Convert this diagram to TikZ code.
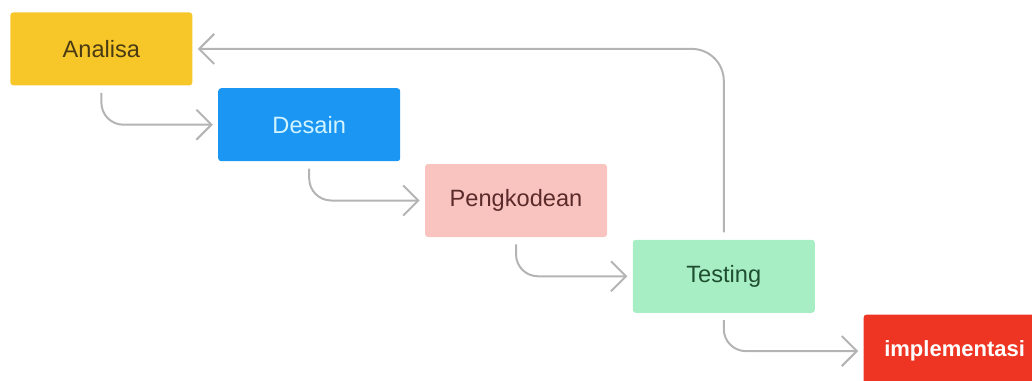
\documentclass[tikz,border=0pt]{standalone}
\usepackage{fontspec}
\setmainfont{Liberation Sans}
\usepackage{xcolor}
\usetikzlibrary{arrows.meta}
\usetikzlibrary{positioning}

\definecolor{analisa}{HTML}{F7C72A}
\definecolor{analisatext}{HTML}{4A3B12}
\definecolor{desain}{HTML}{1B96F3}
\definecolor{desaintext}{HTML}{D2F4FF}
\definecolor{kode}{HTML}{F9C4BF}
\definecolor{kodetext}{HTML}{5B2A2A}
\definecolor{testing}{HTML}{A8EEC5}
\definecolor{testingtext}{HTML}{1F4F30}
\definecolor{implem}{HTML}{EE3524}
\definecolor{flowgray}{HTML}{B4B4B4}

\begin{document}
\begin{tikzpicture}[x=0.5pt, y=-0.5pt, >={Straight Barb[length=7.5pt,width=15pt]},
                main node/.style={rectangle, rounded corners=1.5pt, inner sep=0pt,
                  minimum width=91pt, minimum height=36.5pt,
                  font=\fontsize{11.8}{14}\selectfont},
                flow edge/.style={->, draw=flowgray, line width=1pt,
                  shorten <=3.5pt, shorten >=2.5pt,
                  to path={|- (\tikztotarget) \tikztonodes}}]

  \useasboundingbox (0,0) rectangle (1032,380);

  \node[main node, fill=analisa, text=analisatext, anchor=north west] (1) at (10,12) {Analisa};
  \node[main node, fill=desain, text=desaintext] (2) [below right=1pt and 12.5pt of 1] {Desain};
  \node[main node, fill=kode, text=kodetext] (3) [below right=1pt and 12pt of 2] {Pengkodean};
  \node[main node, fill=testing, text=testingtext] (4) [below right=1pt and 12.5pt of 3] {Testing};
  \node[main node, fill=implem, text=white, font=\fontsize{11}{13}\selectfont\bfseries] (5)
    [below right=0.5pt and 24pt of 4] {implementasi};

  \path
    (1.south) edge [flow edge, rounded corners=11pt] (2.west)
    (2.south) edge [flow edge, rounded corners=11pt] (3.west)
    (3.south) edge [flow edge, rounded corners=11pt] (4.west)
    (4.south) edge [flow edge, rounded corners=11pt] (5.west)
    (4.north) edge [flow edge, rounded corners=16pt] (1.east);
\end{tikzpicture}
\end{document}
